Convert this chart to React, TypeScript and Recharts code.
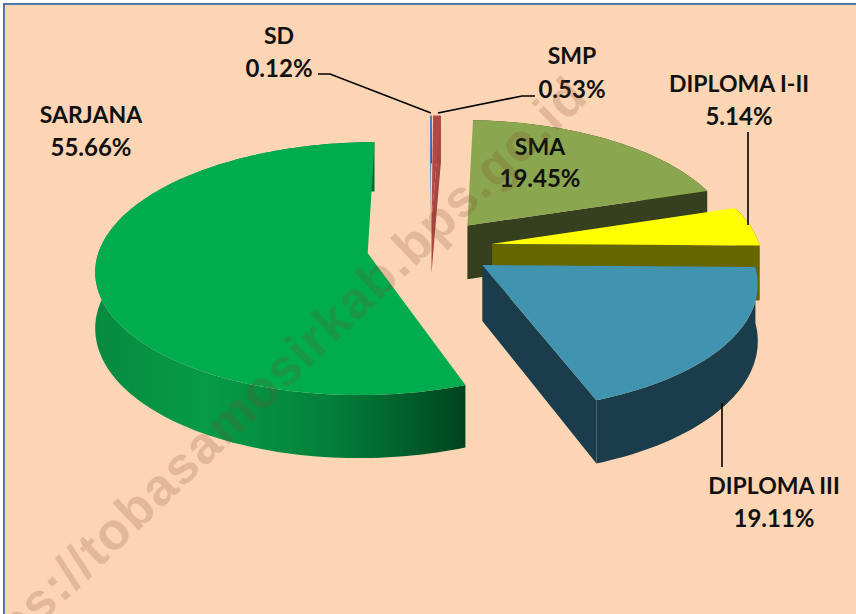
import { PieChart, Pie } from "recharts";

const categories = ["SD", "SMP", "SMA", "DIPLOMA I-II", "DIPLOMA III", "SARJANA"];
const shares = [0.12, 0.53, 19.45, 5.14, 19.11, 55.66];

const topColors = ["#4f81bd", "#b04a48", "#8aa64e", "#ffff00", "#4094af", "#00ac4e"];
const wallColors = ["#2f4f78", "#a84442", "#363f1e", "#666600", "#1b3d4b", "url(#sarjanaWall)"];

// posisi teks label dan garis penunjuk, terpisah dari data
const labelPositions = [
  { x: 279, y: 35, gap: 32 },
  { x: 572, y: 55, gap: 33 },
  { x: 540, y: 146, gap: 31 },
  { x: 739, y: 83, gap: 32 },
  { x: 774, y: 485, gap: 32 },
  { x: 91, y: 114, gap: 32 },
];
const leaderLines = [
  "M318 74 L330 74 L431 113",
  "M535 96 L522 96 L438 113",
  "",
  "M748 132 L748 225",
  "M722 403 L722 467",
  "",
];

const CENTER_X = 430;
const CENTER_Y = 248;
const RADIUS = 268;
const EXPLODE = 63;
const TILT = 0.46;
const DEPTH = 2200;
const HEIGHT = 55;
const RAD = Math.PI / 180;

const project = (cx: number, cy: number, X: number, Y: number, lift = 0) => {
  const s = 1 / (1 - Y / DEPTH);
  return [cx + X * s, cy + Y * TILT * s + lift * s];
};

const toPath = (pts: number[][]) =>
  pts.map((p, i) => `${i ? "L" : "M"}${p[0].toFixed(1)} ${p[1].toFixed(1)}`).join(" ") + " Z";

// Irisan 3D: sudut dihitung oleh Recharts, di sini hanya diproyeksikan
function Slice3D(props: any) {
  const { cx, cy, startAngle, endAngle, midAngle, outerRadius, index } = props;
  const ox = EXPLODE * Math.cos(midAngle * RAD);
  const oy = -EXPLODE * Math.sin(midAngle * RAD);
  const steps = Math.max(2, Math.ceil(Math.abs(endAngle - startAngle) / 1.5));
  const rim: number[][] = [];
  for (let k = 0; k <= steps; k++) {
    const a = (startAngle + ((endAngle - startAngle) * k) / steps) * RAD;
    rim.push([ox + outerRadius * Math.cos(a), oy - outerRadius * Math.sin(a)]);
  }
  const top = rim.map((p) => project(cx, cy, p[0], p[1]));
  const bottom = rim.map((p) => project(cx, cy, p[0], p[1], HEIGHT));
  const apexTop = project(cx, cy, ox, oy);
  const apexBottom = project(cx, cy, ox, oy, HEIGHT);
  const wall = wallColors[index];
  // sisi potong hanya digambar kalau menghadap ke penonton
  const endFacesViewer = Math.cos(endAngle * RAD) > 0.01;
  return (
    <g>
      <defs>
        <linearGradient id="sarjanaWall" gradientUnits="userSpaceOnUse" x1="96" y1="0" x2="462" y2="0">
          <stop offset="0" stopColor="#078a40" />
          <stop offset="0.3" stopColor="#069b48" />
          <stop offset="0.65" stopColor="#037f3a" />
          <stop offset="1" stopColor="#00451f" />
        </linearGradient>
      </defs>
      {endFacesViewer && <path d={toPath([apexTop, top[steps], bottom[steps], apexBottom])} fill={wall} />}
      <path d={toPath([...top, ...[...bottom].reverse()])} fill={wall} />
      <path d={toPath([apexTop, ...top])} fill={topColors[index]} />
    </g>
  );
}

function SliceLabel(props: any) {
  const i = props.index;
  const pos = labelPositions[i];
  return (
    <g fontFamily="Lato, sans-serif" fontWeight={700} fill="#111" textAnchor="middle" dominantBaseline="central">
      <text x={pos.x} y={pos.y} fontSize={23}>{categories[i]}</text>
      <text x={pos.x} y={pos.y + pos.gap} fontSize={24}>{`${shares[i].toFixed(2)}%`}</text>
      {leaderLines[i] && <path d={leaderLines[i]} fill="none" stroke="#000" strokeWidth={1.6} />}
    </g>
  );
}

const chartData = categories.map((name, i) => ({ name, value: shares[i] }));

export default function App() {
  return (
    <div style={{ position: "absolute", left: 0, top: 0, width: 856, height: 614, overflow: "hidden", background: "#fff" }}>
      <div
        style={{
          position: "absolute",
          left: 3,
          top: 3,
          width: 880,
          height: 640,
          background: "#fcd5b5",
          border: "2px solid #4f76a6",
        }}
      />
      <div style={{ position: "absolute", left: 0, top: 0 }}>
        <PieChart width={856} height={614} margin={{ top: 0, right: 0, bottom: 0, left: 0 }}>
          <Pie
            data={chartData}
            dataKey="value"
            nameKey="name"
            cx={CENTER_X}
            cy={CENTER_Y}
            outerRadius={RADIUS}
            startAngle={90}
            endAngle={-270}
            stroke="none"
            shape={Slice3D}
            label={SliceLabel}
            labelLine={false}
            isAnimationActive={false}
          />
        </PieChart>
      </div>
      <div
        style={{
          position: "absolute",
          left: -48,
          top: 654,
          transformOrigin: "0 50%",
          transform: "rotate(-43.7deg)",
          whiteSpace: "nowrap",
          fontFamily: "'Liberation Sans', sans-serif",
          fontWeight: 700,
          fontSize: 52,
          letterSpacing: 1.5,
          color: "rgba(130,70,40,0.2)",
          pointerEvents: "none",
        }}
      >
        https://tobasamosirkab.bps.go.id
      </div>
    </div>
  );
}
